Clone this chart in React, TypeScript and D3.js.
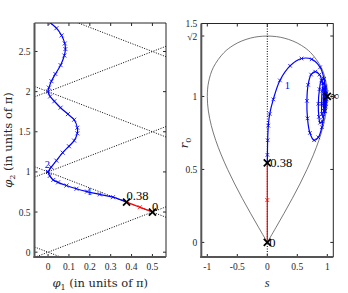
import React, { useEffect, useRef } from "react";
import * as d3 from "d3";

// ---- left panel: trajectory in (phi1, phi2), units of pi ----
const branch2Phi1 = [0.012, 0.04, 0.065, 0.08, 0.083, 0.078, 0.06, 0.035, 0.016, 0.004, 0.0, 0.01, 0.03, 0.06, 0.095, 0.125, 0.14, 0.14, 0.125, 0.1, 0.07, 0.04, 0.015, 0.0];
const branch2Phi2 = [2.855, 2.79, 2.7, 2.6, 2.53, 2.45, 2.33, 2.22, 2.13, 2.05, 2.0, 1.94, 1.88, 1.8, 1.72, 1.65, 1.55, 1.48, 1.39, 1.32, 1.24, 1.14, 1.06, 1.0];
const branch1Phi1 = [0.0, 0.008, 0.025, 0.048, 0.088, 0.136, 0.187, 0.248, 0.311, 0.376];
const branch1Phi2 = [1.0, 0.95, 0.9, 0.87, 0.83, 0.79, 0.755, 0.72, 0.685, 0.623];
const redPhi1 = [0.376, 0.44, 0.5];
const redPhi2 = [0.623, 0.56, 0.5];
const diagOffsets = [-1, 0, 1, 2, 3]; // phi2 = phi1 + k
const antiOffsets = [0, 1, 2, 3, 4]; // phi2 = -phi1 + k
const leftXTicks = [0, 0.1, 0.2, 0.3, 0.4, 0.5];
const leftYTicks = [0, 0.5, 1, 1.5, 2, 2.5];

// ---- right panel: (s, r0) ----
const spiralS = [0, 0.002, 0.006, 0.017, 0.04, 0.1, 0.21, 0.38, 0.57, 0.74, 0.88, 0.945, 0.965, 0.95, 0.91, 0.85, 0.78, 0.71, 0.67, 0.66, 0.68, 0.73, 0.8, 0.87, 0.92, 0.95, 0.95, 0.92, 0.88, 0.86, 0.85, 0.87, 0.9, 0.94, 0.97, 0.975, 0.96, 0.93, 0.91, 0.905, 0.915, 0.94, 0.97, 0.985, 0.975, 0.95, 0.935, 0.94, 0.96, 0.985, 0.99, 0.975, 0.96, 0.965, 0.985, 0.995, 1.0];
const spiralR = [0.545, 0.6, 0.7, 0.8, 0.88, 0.98, 1.11, 1.21, 1.26, 1.255, 1.2, 1.12, 1.02, 0.9, 0.79, 0.72, 0.7, 0.75, 0.85, 0.97, 1.08, 1.15, 1.17, 1.15, 1.09, 1.0, 0.9, 0.83, 0.82, 0.86, 0.95, 1.05, 1.11, 1.12, 1.06, 0.98, 0.9, 0.86, 0.88, 0.95, 1.04, 1.09, 1.07, 1.0, 0.93, 0.9, 0.94, 1.02, 1.06, 1.03, 0.98, 0.95, 0.97, 1.02, 1.02, 1.0, 1.0];
const redS = [0, 0, 0];
const redR = [0, 0.29, 0.545];
const boundaryR = [0, 0.1, 0.2, 0.3, 0.4, 0.5, 0.6, 0.7, 0.8, 0.9, 1.0, 1.1, 1.2, 1.3, 1.35, 1.38, 1.4, 1.41, 1.414];
const boundaryS = [0, 0.141, 0.28, 0.415, 0.543, 0.661, 0.768, 0.86, 0.933, 0.982, 1.0, 0.978, 0.898, 0.724, 0.569, 0.427, 0.28, 0.154, 0];
const rightXTicks = [-1, -0.5, 0, 0.5, 1];
const rightYTicks = [0, 0.5, 1, Math.SQRT2, 1.5];
const rightYLabels = ["0", "0.5", "1", "√2", "1.5"];

const FONT = "'Liberation Serif', 'DejaVu Serif', serif";
const LABEL_FONT = "'DejaVu Serif', serif";
const BLUE = "#0000ff";
const RED = "#ff0000";

type Pt = [number, number];
const zip = (a: number[], b: number[]): Pt[] => a.map((v, i) => [v, b[i]]);
const cross = (a: number) => `M${-a},${-a}L${a},${a}M${-a},${a}L${a},${-a}`;

function drawFrame(g: any, x: any, y: any, xTicks: number[], yTicks: number[], yLabels?: string[]) {
  const [x0, x1] = x.range();
  const [y0, y1] = y.range();
  const tk = 3;
  xTicks.forEach((t) => {
    g.append("line").attr("x1", x(t)).attr("x2", x(t)).attr("y1", y0).attr("y2", y0 - tk).attr("stroke", "#262626");
    g.append("line").attr("x1", x(t)).attr("x2", x(t)).attr("y1", y1).attr("y2", y1 + tk).attr("stroke", "#262626");
    g.append("text").attr("x", x(t)).attr("y", y0 + 13).attr("text-anchor", "middle")
      .style("font-family", FONT).style("font-size", "9.5px").attr("fill", "#262626").text(String(t));
  });
  yTicks.forEach((t, i) => {
    g.append("line").attr("x1", x0).attr("x2", x0 + tk).attr("y1", y(t)).attr("y2", y(t)).attr("stroke", "#262626");
    g.append("line").attr("x1", x1).attr("x2", x1 - tk).attr("y1", y(t)).attr("y2", y(t)).attr("stroke", "#262626");
    g.append("text").attr("x", x0 - 4).attr("y", y(t) + 3.5).attr("text-anchor", "end")
      .style("font-family", FONT).style("font-size", "9.5px").attr("fill", "#262626")
      .text(yLabels ? yLabels[i] : String(t));
  });
  g.append("line").attr("x1", x0).attr("x2", x1).attr("y1", y1).attr("y2", y1).attr("stroke", "#262626").attr("stroke-width", 1);
  g.append("line").attr("x1", x1).attr("x2", x1).attr("y1", y0).attr("y2", y1).attr("stroke", "#262626").attr("stroke-width", 1);
  g.append("line").attr("x1", x0).attr("x2", x0).attr("y1", y0 + 1).attr("y2", y1).attr("stroke", "#555").attr("stroke-width", 2);
  g.append("line").attr("x1", x0 - 1).attr("x2", x1).attr("y1", y0).attr("y2", y0).attr("stroke", "#555").attr("stroke-width", 2);
}

function curve(g: any, pts: Pt[], x: any, y: any, color: string, markerSize: number, markIdx?: number[]) {
  const line = d3.line<Pt>().x((d) => x(d[0])).y((d) => y(d[1])).curve(d3.curveCatmullRom);
  g.append("path").attr("d", line(pts)).attr("fill", "none").attr("stroke", color).attr("stroke-width", 1.2);
  const ms = markIdx ? markIdx.map((i) => pts[i]) : pts;
  g.selectAll(null).data(ms).enter().append("path")
    .attr("d", cross(markerSize))
    .attr("transform", (d: Pt) => `translate(${x(d[0])},${y(d[1])})`)
    .attr("stroke", color).attr("stroke-width", 0.8);
}

function bigMark(g: any, px: number, py: number) {
  g.append("path").attr("d", cross(3.5)).attr("transform", `translate(${px},${py})`)
    .attr("stroke", "#000").attr("stroke-width", 1.8);
}

function label(g: any, px: number, py: number, txt: string, color: string, size: number, anchor = "start") {
  return g.append("text").attr("x", px).attr("y", py).attr("text-anchor", anchor)
    .style("font-family", FONT).style("font-size", `${size}px`).attr("fill", color).text(txt);
}

function subLabel(g: any, transform: string, sym: string, sub: string, rest: string) {
  const t = g.append("text").attr("transform", transform).attr("text-anchor", "middle")
    .style("font-family", LABEL_FONT).style("font-size", "11.5px").attr("fill", "#262626");
  t.append("tspan").style("font-style", "italic").text(sym);
  t.append("tspan").attr("dy", 2.5).style("font-size", "8px").text(sub);
  if (rest) t.append("tspan").attr("dy", -2.5).text(rest);
  return t;
}

export default function App() {
  const ref = useRef<SVGSVGElement>(null);

  useEffect(() => {
    const svg = d3.select(ref.current);
    svg.selectAll("*").remove();

    const defs = svg.append("defs");
    defs.append("clipPath").attr("id", "clipL").append("rect")
      .attr("x", 34.5).attr("y", 23).attr("width", 166 - 34.5).attr("height", 257 - 23);
    defs.append("clipPath").attr("id", "clipR").append("rect")
      .attr("x", 201.3).attr("y", 23.5).attr("width", 333.3 - 201.3).attr("height", 257 - 23.5);

    // ---------- left panel ----------
    const xL = d3.scaleLinear().domain([-0.065, 0.565]).range([34.5, 166]);
    const yL = d3.scaleLinear().domain([-0.06, 2.855]).range([257, 23]);
    const gL = svg.append("g");
    const pl = gL.append("g").attr("clip-path", "url(#clipL)");
    const [xa, xb] = xL.domain();
    diagOffsets.forEach((k) => {
      pl.append("line").attr("x1", xL(xa)).attr("y1", yL(xa + k)).attr("x2", xL(xb)).attr("y2", yL(xb + k))
        .attr("stroke", "#000").attr("stroke-width", 1).attr("stroke-dasharray", "1,1.5");
    });
    antiOffsets.forEach((k) => {
      pl.append("line").attr("x1", xL(xa)).attr("y1", yL(-xa + k)).attr("x2", xL(xb)).attr("y2", yL(-xb + k))
        .attr("stroke", "#000").attr("stroke-width", 1).attr("stroke-dasharray", "1,1.5");
    });
    curve(pl, zip(branch2Phi1, branch2Phi2), xL, yL, BLUE, 2);
    curve(pl, zip(branch1Phi1, branch1Phi2), xL, yL, BLUE, 2);
    curve(pl, zip(redPhi1, redPhi2), xL, yL, RED, 2, [1]);
    bigMark(pl, xL(redPhi1[0]), yL(redPhi2[0]));
    bigMark(pl, xL(redPhi1[2]), yL(redPhi2[2]));

    drawFrame(gL, xL, yL, leftXTicks, leftYTicks);
    label(gL, xL(redPhi1[0]), yL(redPhi2[0]) - 2, "0.38", "#000", 12.5);
    label(gL, xL(redPhi1[2]) - 0.5, yL(redPhi2[2]) - 1.5, "0", "#000", 12.5);
    label(gL, xL(0.187), yL(0.73) + 1, "1", BLUE, 10.5);
    label(gL, xL(-0.016), yL(1.05), "2", BLUE, 10.5);

    subLabel(gL, "translate(100.3,287)", "φ", "1", " (in units of π)");
    subLabel(gL, "translate(12,140) rotate(-90)", "φ", "2", " (in units of π)");

    // ---------- right panel ----------
    const xR = d3.scaleLinear().domain([-1.1, 1.1]).range([201.3, 333.3]);
    const yR = d3.scaleLinear().domain([-0.1, 1.5]).range([257, 23.5]);
    const gR = svg.append("g");
    const pr = gR.append("g").attr("clip-path", "url(#clipR)");

    const rightHalf: Pt[] = zip(boundaryS, boundaryR);
    const leftHalf: Pt[] = rightHalf.slice(0, -1).reverse().map((d) => [-d[0], d[1]] as Pt);
    const boundary = d3.line<Pt>().x((d) => xR(d[0])).y((d) => yR(d[1])).curve(d3.curveCatmullRom);
    pr.append("path").attr("d", boundary(rightHalf.concat(leftHalf))).attr("fill", "none")
      .attr("stroke", "#555").attr("stroke-width", 0.8);

    pr.append("line").attr("x1", xR(0)).attr("x2", xR(0)).attr("y1", yR(-0.1)).attr("y2", yR(1.5))
      .attr("stroke", "#000").attr("stroke-width", 1).attr("stroke-dasharray", "1,1.5");

    curve(pr, zip(spiralS, spiralR), xR, yR, BLUE, 1.8);
    curve(pr, zip(redS, redR), xR, yR, RED, 2, [1]);
    bigMark(pr, xR(0), yR(0));
    bigMark(pr, xR(0), yR(0.545));
    bigMark(pr, xR(1), yR(1));

    drawFrame(gR, xR, yR, rightXTicks, rightYTicks, rightYLabels);
    label(gR, xR(0) + 3, yR(0.545) + 4.5, "0.38", "#000", 12.5);
    label(gR, xR(0) + 2, yR(0) + 4.5, "0", "#000", 12.5);
    label(gR, xR(1) + 3, yR(1) + 3.5, "∞", "#000", 12.5);
    label(gR, xR(0.29), yR(1.05), "1", BLUE, 10.5);

    label(gR, 267.3, 287, "s", "#262626", 12.5, "middle").style("font-style", "italic");
    subLabel(gR, "translate(188,143) rotate(-90)", "r", "0", "");
  }, []);

  return (
    <svg ref={ref} width={348} height={293}
      style={{ position: "absolute", left: 0, top: 0, background: "#fff" }} />
  );
}
